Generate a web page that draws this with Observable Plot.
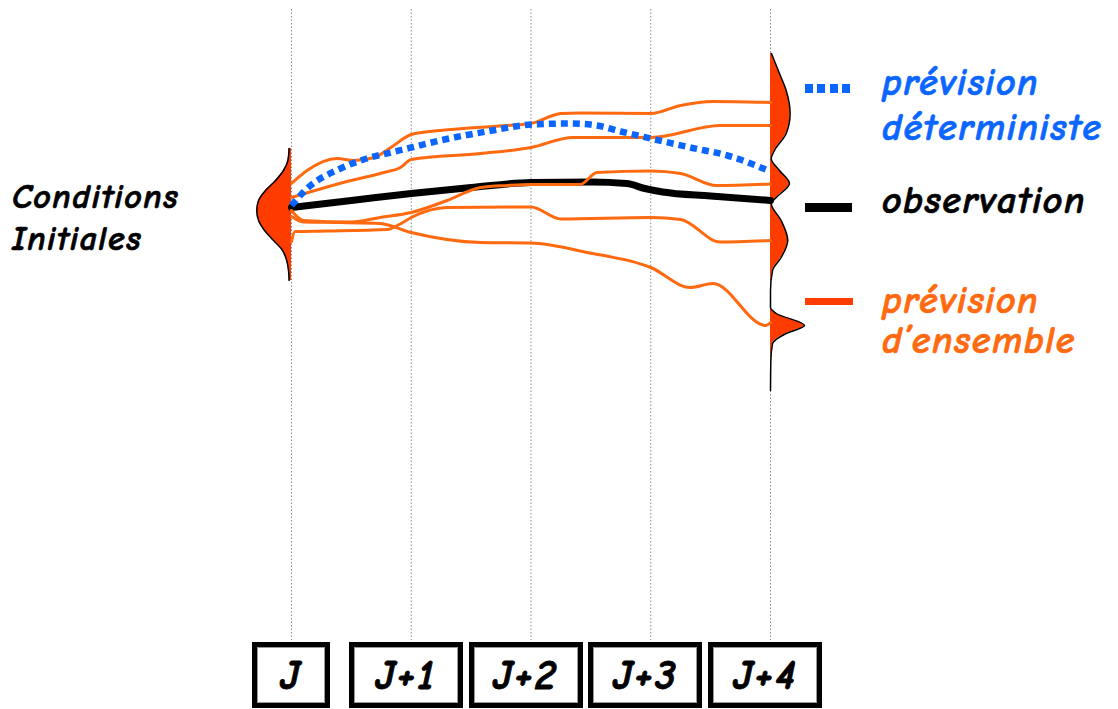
<!DOCTYPE html>
<html>
<head>
<meta charset="utf-8">
<script src="https://cdn.jsdelivr.net/npm/d3@7"></script>
<script src="https://cdn.jsdelivr.net/npm/@observablehq/plot@0.6"></script>
<style>
  body { margin: 0; background: #fff; }
  #fig { position: relative; width: 1118px; height: 709px; overflow: hidden;
         font-family: "Comic Sans MS", "Comic Neue", "Open Sans", "Noto Sans", sans-serif; }
  #fig svg { position: absolute; left: 0; top: 0; }
  .lbl { position: absolute; font-style: italic; font-weight: 700; white-space: nowrap; line-height: 1;
         letter-spacing: 1.5px; -webkit-text-stroke: 0.7px currentColor; }
  .swatch { position: absolute; }
  .box { position: absolute; box-sizing: border-box; border: 5px solid #000;
         box-shadow: inset 0 0 0 1px #999; background: #fff;
         display: flex; align-items: center; justify-content: center;
         font-style: italic; font-weight: 700; font-size: 42px; letter-spacing: 2px; color: #000;
         -webkit-text-stroke: 0.8px #000; }
</style>
</head>
<body>
<div id="fig"></div>
<script>
// Échéances de prévision (jours)
const echeances = ["J", "J+1", "J+2", "J+3", "J+4"];

// Trajectoires : [échéance en jours, valeur]
const observation = [[0, 43.3], [0.5, 44.0], [1, 44.7], [1.5, 45.3], [2, 45.8], [2.5, 45.85],
  [2.8, 45.7], [2.95, 45.2], [3.1, 44.85], [3.5, 44.45], [4, 44.0]];

const deterministe = [[0, 43.5], [0.13, 45.2], [0.41, 47.2], [0.63, 48.2], [0.83, 48.8], [1, 49.3],
  [1.24, 50.0], [1.63, 50.9], [2.01, 51.6], [2.33, 51.7], [2.55, 51.5], [2.75, 50.9], [3, 50.2],
  [3.33, 49.3], [3.64, 48.5], [3.98, 47.0]];

const membre1 = [[0, 45.7], [0.13, 47.0], [0.38, 48.2], [0.52, 48.0], [0.69, 48.3], [0.83, 49.3],
  [1, 50.6], [1.24, 51.0], [1.8, 51.5], [2, 51.7], [2.25, 52.7], [2.41, 52.75], [3, 52.7],
  [3.25, 53.5], [3.52, 53.9], [4, 53.8]];
const membre2 = [[0, 44.3], [0.4, 45.7], [0.77, 46.8], [0.91, 47.3], [1, 48.1], [1.58, 48.7],
  [2, 49.3], [2.35, 50.3], [3, 50.3], [3.58, 51.5], [4, 51.5]];
const membre3 = [[0, 43.0], [0.1, 42.0], [0.5, 41.85], [0.74, 42.3], [1, 42.8], [1.3, 44.0],
  [1.58, 45.3], [1.8, 45.5], [2, 45.6], [2.41, 45.6], [2.55, 46.8], [3, 46.95], [3.25, 46.7],
  [3.55, 45.5], [4, 45.65]];
const membre4 = [[0, 39.9], [0.03, 40.9], [0.3, 40.95], [0.8, 41.1], [0.9, 41.6], [1, 42.3],
  [1.3, 43.3], [2, 43.35], [2.25, 42.15], [3, 42.3], [3.25, 42.1], [3.58, 39.85], [4, 40.0]];
const membre5 = [[0, 42.4], [0.1, 41.85], [0.4, 41.8], [0.74, 41.7], [1, 40.8], [1.58, 39.8],
  [2, 39.75], [2.47, 38.8], [3, 37.3], [3.33, 35.3], [3.52, 35.7], [3.96, 31.5], [4, 31.8]];

// Densités de probabilité : [valeur, densité]
const densiteInitiale = [[49.2, 0.02], [48.0, 0.03], [47.0, 0.067], [46.0, 0.133], [45.0, 0.217],
  [44.0, 0.275], [43.0, 0.29], [42.0, 0.275], [41.0, 0.225], [40.0, 0.15], [39.0, 0.075],
  [38.0, 0.04], [37.0, 0.025], [36.0, 0.02]];
const densiteFinale = [[58.7, 0.008], [56.7, 0.075], [55.0, 0.131], [52.7, 0.164], [50.7, 0.131],
  [49.0, 0.033], [48.2, 0.006], [47.0, 0.075], [45.7, 0.158], [44.3, 0.048], [43.7, 0.006],
  [42.0, 0.089], [40.0, 0.144], [38.3, 0.089], [37.0, 0.017], [35.0, 0.0], [33.3, 0.0],
  [32.7, 0.048], [31.5, 0.283], [30.7, 0.131], [29.7, 0.017], [28.0, 0.003], [25.0, 0.0]];

const bleu = "#0a66ff", orange = "#ff6a10", rouge = "#ff3c00";

const toRows = (pts, extra) => pts.map(([jour, v]) => ({jour, v, ...extra}));
const ensemble = [membre1, membre2, membre3, membre4, membre5]
  .flatMap((m, i) => toRows(m, {membre: i + 1}));

// densité tracée horizontalement depuis l'échéance, vers la gauche (J) ou la droite (J+4)
const densRows = (pts, jour, sens) => pts
  .map(([v, d]) => ({v, x1: jour, x2: jour + sens * d}))
  .sort((a, b) => a.v - b.v);
const dInit = densRows(densiteInitiale, 0, -1);
const dFin = densRows(densiteFinale, echeances.length - 1, 1);

const plot = Plot.plot({
  width: 1118, height: 640,
  marginLeft: 291, marginRight: 348, marginTop: 9, marginBottom: 0,
  x: {domain: [0, echeances.length - 1], axis: null},
  y: {domain: [0, 63.1], axis: null},
  marks: [
    Plot.ruleX(d3.range(echeances.length), {stroke: "#8a8a8a", strokeWidth: 1, strokeDasharray: "1.5,2"}),
    Plot.areaX(dInit, {y: "v", x1: "x1", x2: "x2", fill: rouge, curve: "monotone-y"}),
    Plot.lineX(dInit, {y: "v", x: "x2", stroke: "#000", strokeWidth: 1.5, curve: "monotone-y"}),
    Plot.areaX(dFin, {y: "v", x1: "x1", x2: "x2", fill: rouge, curve: "monotone-y"}),
    Plot.lineX(dFin, {y: "v", x: "x2", stroke: "#000", strokeWidth: 1.5, curve: "monotone-y"}),
    Plot.line(toRows(observation), {x: "jour", y: "v", stroke: "#000", strokeWidth: 7, curve: "monotone-x"}),
    Plot.line(ensemble, {x: "jour", y: "v", z: "membre", stroke: orange, strokeWidth: 3, curve: "monotone-x"}),
    Plot.line(toRows(deterministe), {x: "jour", y: "v", stroke: bleu, strokeWidth: 6.5,
      strokeDasharray: "7,5", strokeLinecap: "butt", curve: "monotone-x"})
  ]
});

const fig = document.getElementById("fig");
fig.appendChild(plot);

// Cases des échéances sous l'axe
const xs = plot.scale("x");
echeances.forEach((lab, i) => {
  const gx = xs.apply(i);
  const b = document.createElement("div");
  b.className = "box";
  const w = i === 0 ? 78 : 114;
  const left = i === 0 ? gx - 39 : gx - 62;
  Object.assign(b.style, {left: left + "px", top: "642px", width: w + "px", height: "66px"});
  b.textContent = lab;
  fig.appendChild(b);
});

// Textes et légende
function label(text, left, top, size, color) {
  const d = document.createElement("div");
  d.className = "lbl";
  Object.assign(d.style, {left: left + "px", top: top + "px", fontSize: size + "px", color});
  d.textContent = text;
  fig.appendChild(d);
}
function swatch(left, top, w, h, bg) {
  const d = document.createElement("div");
  d.className = "swatch";
  Object.assign(d.style, {left: left + "px", top: top + "px", width: w + "px", height: h + "px", background: bg});
  fig.appendChild(d);
}
label("Conditions", 12, 180, 34, "#000");
label("Initiales", 12, 222, 34, "#000");

swatch(805, 84, 46, 9, `repeating-linear-gradient(90deg, ${bleu} 0 8px, transparent 8px 12.5px)`);
label("prévision", 882, 64, 38, bleu);
label("déterministe", 882, 109, 38, bleu);
swatch(805, 203, 47, 9, "#000");
label("observation", 882, 182, 38, "#000");
swatch(805, 298, 48, 7, rouge);
label("prévision", 882, 282, 38, orange);
label("d’ensemble", 882, 322, 38, orange);
</script>
</body>
</html>
